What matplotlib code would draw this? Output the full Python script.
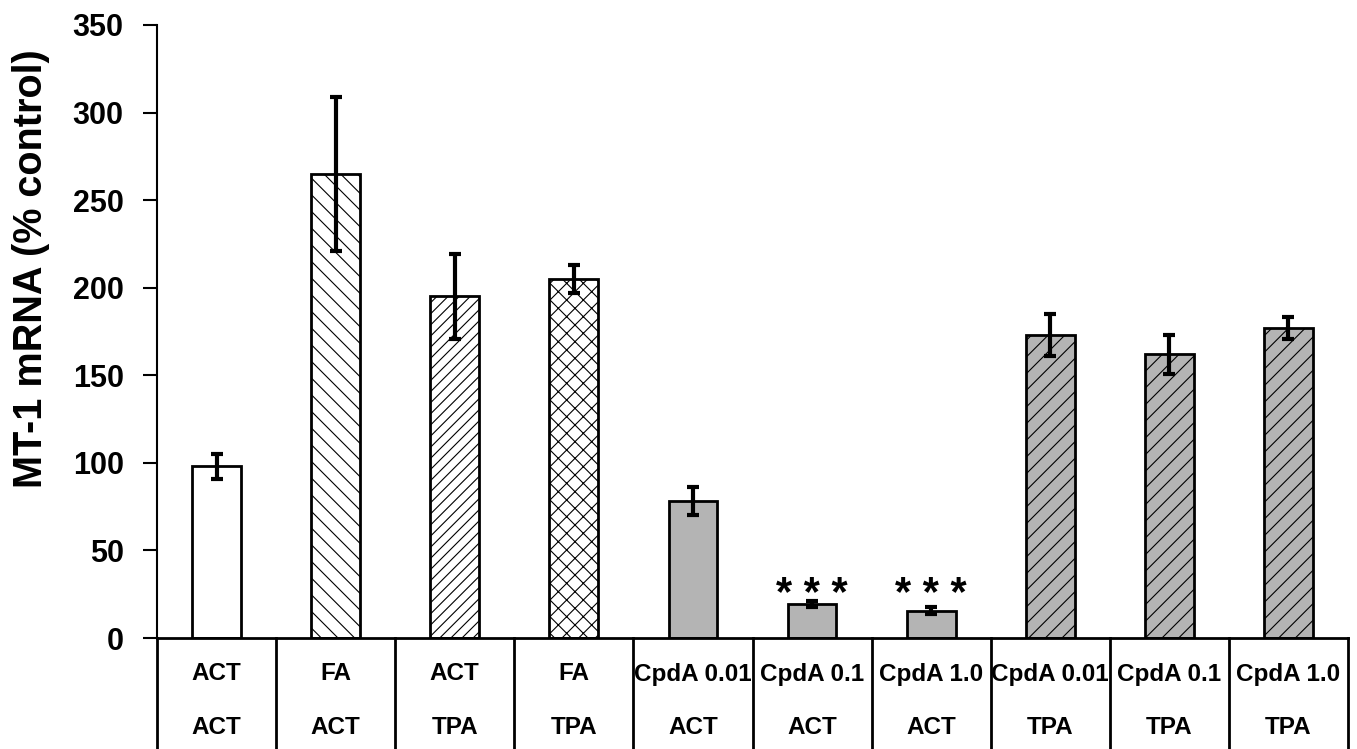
import matplotlib
matplotlib.use("Agg")
import matplotlib.pyplot as plt
from matplotlib.transforms import blended_transform_factory

plt.rcParams['font.family'] = ['Liberation Sans', 'DejaVu Sans']
plt.rcParams['hatch.linewidth'] = 0.8

# Treatment labels (two table rows) and measured values
row1 = ["ACT", "FA", "ACT", "FA", "CpdA 0.01", "CpdA 0.1", "CpdA 1.0",
        "CpdA 0.01", "CpdA 0.1", "CpdA 1.0"]
row2 = ["ACT", "ACT", "TPA", "TPA", "ACT", "ACT", "ACT", "TPA", "TPA", "TPA"]
values = [98, 265, 195, 205, 78.5, 19.4, 15.5, 173, 162, 177]
errors = [7, 44, 24, 8, 8, 1.5, 2, 12, 11, 6]
significance = ["", "", "", "", "", "* * *", "* * *", "", "", ""]

fills = ["white", "white", "white", "white", "#b4b4b4", "#b4b4b4", "#b4b4b4",
         "#b4b4b4", "#b4b4b4", "#b4b4b4"]
hatches = [None, "\\\\", "///", "xx", None, None, None, "//", "//", "//"]

W, H = 1357, 749
fig = plt.figure(figsize=(W / 100, H / 100), dpi=100)
ax = fig.add_axes([157 / W, (H - 638) / H, (1348 - 157) / W, (638 - 25) / H])

n = len(values)
x = list(range(n))
for i in range(n):
    ax.bar(x[i], values[i], width=0.41, color=fills[i], edgecolor="black",
           linewidth=2, hatch=hatches[i], zorder=2)
ax.errorbar(x, values, yerr=errors, fmt="none", ecolor="black",
            elinewidth=3, capsize=4, capthick=3, zorder=3)

for i, s in enumerate(significance):
    if s:
        ax.text(x[i], 18.5, s, ha="center", va="baseline", fontsize=30,
                fontweight="bold")

ax.set_xlim(-0.5, n - 0.5)
ax.set_ylim(0, 350)
ax.set_yticks(range(0, 351, 50))
ax.tick_params(axis="y", direction="out", length=10, width=1.5,
               labelsize=22, pad=14)
for lab in ax.get_yticklabels():
    lab.set_fontweight("bold")
ax.set_xticks([])
for side in ("top", "right", "bottom"):
    ax.spines[side].set_visible(False)
ax.spines["left"].set_linewidth(1.5)
fig.text(31 / W, 1 - 269 / H, "MT-1 mRNA (% control)", rotation=90,
         ha="center", va="center", fontsize=28.5, fontweight="bold")

# Treatment table under the axis
tr = blended_transform_factory(ax.transData, ax.transAxes)
span = 638 - 25
table_depth = (638 - 760) / span
ax.plot([-0.5, n - 0.5], [0, 0], transform=tr, color="black", lw=2,
        clip_on=False, zorder=4)
for b in range(n + 1):
    ax.plot([b - 0.5, b - 0.5], [0, table_depth], transform=tr,
            color="black", lw=2, clip_on=False, zorder=4)
y1 = -(674 - 638) / span
y2 = -(728 - 638) / span
for i in range(n):
    ax.text(x[i], y1, row1[i], transform=tr, ha="center", va="center",
            fontsize=17.5, fontweight="bold")
    ax.text(x[i], y2, row2[i], transform=tr, ha="center", va="center",
            fontsize=17.5, fontweight="bold")

fig.savefig("out.png", dpi=100)
